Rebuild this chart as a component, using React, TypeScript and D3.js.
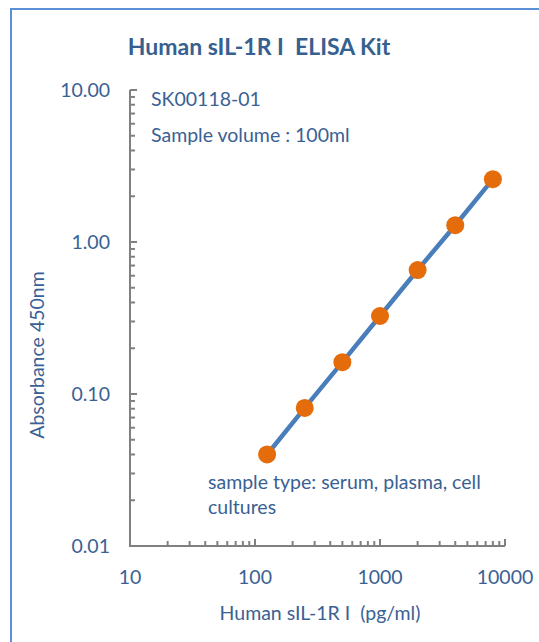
import React, { useEffect } from 'react';
import * as d3 from 'd3';

const concentrations = [125, 250, 500, 1000, 2000, 4000, 8000];
const absorbances = [0.04, 0.081, 0.162, 0.326, 0.654, 1.29, 2.59];
const yTicks = [0.01, 0.1, 1, 10];
const xTicks = [10, 100, 1000, 10000];

const width = 539;
const height = 642;
const textColor = '#3A6193';
const font = 'Lato, "Open Sans", sans-serif';
const fs = 19.5;

const App = () => {
  useEffect(() => {
    document.body.style.margin = '0';
  }, []);

  const x = d3.scaleLog().domain([10, 10000]).range([130, 505]);
  const y = d3.scaleLog().domain([0.01, 10]).range([546, 90]);

  const minorY: number[] = [];
  [0.01, 0.1, 1].forEach((d) => {
    for (let k = 2; k <= 9; k++) minorY.push(d * k);
  });
  const minorX: number[] = [];
  [10, 100, 1000].forEach((d) => {
    for (let k = 2; k <= 9; k++) minorX.push(d * k);
  });

  const line = d3
    .line<number>()
    .x((d, i) => x(concentrations[i]))
    .y((d) => y(d));

  return (
    <svg width={width} height={height} style={{ position: 'absolute', left: 0, top: 0 }}>
      <rect x={0} y={0} width={width} height={height} fill="#fff" />
      <rect x={11} y={9} width={560} height={660} fill="none" stroke="#5B8FD6" strokeWidth={2} />

      <text x={259} y={55} textAnchor="middle" fill="#35608F" fontFamily={font} fontWeight="bold" fontSize={23}>
        Human sIL-1R I&nbsp;&nbsp;ELISA Kit
      </text>

      {/* y axis */}
      <line x1={x(10)} x2={x(10)} y1={y(10)} y2={y(0.01)} stroke="#808080" strokeWidth={2} />
      {yTicks.map((t) => (
        <g key={'y' + t}>
          <line x1={x(10)} x2={x(10) + 7} y1={y(t)} y2={y(t)} stroke="#808080" strokeWidth={2} />
          <text x={110} y={y(t) + 7} textAnchor="end" fill={textColor} fontFamily={font} fontSize={fs}>
            {d3.format('.2f')(t)}
          </text>
        </g>
      ))}
      {minorY.map((t) => (
        <line key={'my' + t} x1={x(10)} x2={x(10) + 5} y1={y(t)} y2={y(t)} stroke="#808080" strokeWidth={2} />
      ))}

      {/* x axis */}
      <line x1={x(10) - 1} x2={x(10000)} y1={y(0.01)} y2={y(0.01)} stroke="#808080" strokeWidth={2} />
      {xTicks.map((t) => (
        <g key={'x' + t}>
          <line x1={x(t)} x2={x(t)} y1={y(0.01)} y2={y(0.01) - 7} stroke="#808080" strokeWidth={2} />
          <text x={x(t)} y={584} textAnchor="middle" fill={textColor} fontFamily={font} fontSize={fs}>
            {t}
          </text>
        </g>
      ))}
      {minorX.map((t) => (
        <line key={'mx' + t} x1={x(t)} x2={x(t)} y1={y(0.01)} y2={y(0.01) - 5} stroke="#808080" strokeWidth={2} />
      ))}

      <text x={320} y={620} textAnchor="middle" fill={textColor} fontFamily={font} fontSize={fs}>
        Human sIL-1R I&nbsp;&nbsp;(pg/ml)
      </text>
      <text
        transform={`translate(44, 355) rotate(-90)`}
        textAnchor="middle"
        fill={textColor}
        fontFamily={font}
        fontSize={fs}
      >
        Absorbance 450nm
      </text>

      <text x={151} y={106} fill={textColor} fontFamily={font} fontSize={fs}>SK00118-01</text>
      <text x={151} y={142} fill={textColor} fontFamily={font} fontSize={fs}>Sample volume : 100ml</text>
      <text x={208} y={489} fill={textColor} fontFamily={font} fontSize={fs}>sample type: serum, plasma, cell</text>
      <text x={208} y={514} fill={textColor} fontFamily={font} fontSize={fs}>cultures</text>

      <path d={line(absorbances) || undefined} fill="none" stroke="#4A7EBB" strokeWidth={4.5} />
      {absorbances.map((v, i) => (
        <circle key={i} cx={x(concentrations[i])} cy={y(v)} r={9} fill="#E46C0A" />
      ))}
    </svg>
  );
};

export default App;
